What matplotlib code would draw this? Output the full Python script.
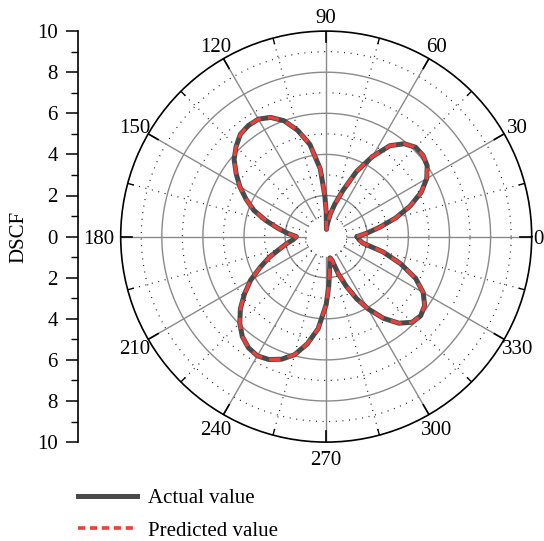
import numpy as np
import matplotlib
matplotlib.use("Agg")
import matplotlib.pyplot as plt
from matplotlib.lines import Line2D
from matplotlib import transforms

plt.rcParams['font.family'] = ['Liberation Serif', 'DejaVu Serif']

# Direction angles (degrees) and DSCF magnitudes
angles_deg = [0, 5, 10, 15, 20, 25, 30, 35, 40, 45, 50, 55, 60, 65, 70, 75, 80, 85, 88,
              90, 92, 95, 100, 105, 110, 115, 120, 125, 130, 135, 140, 145, 150, 155,
              160, 165, 170, 175, 180, 185, 190, 195, 200, 205, 210, 215, 220, 225,
              230, 235, 240, 245, 250, 255, 260, 265, 270, 273, 276, 280, 284, 288,
              292, 296, 300, 305, 310, 315, 320, 325, 330, 335, 340, 345, 350, 355, 360]
actual = [1.5, 2.0, 2.65, 3.5, 4.35, 5.1, 5.65, 6.0, 6.15, 6.15, 5.9, 5.4, 4.5, 3.5,
          2.4, 1.65, 1.1, 0.6, 0.35,
          1.2, 2.0, 3.3, 4.55, 5.35, 6.0, 6.4, 6.6, 6.6, 6.5, 6.2, 5.85, 5.35, 4.85,
          4.3, 3.75, 3.05, 2.4, 1.9, 1.45, 1.6, 1.95, 2.35, 2.95, 3.55, 4.25, 4.85,
          5.45, 5.95, 6.35, 6.6, 6.7, 6.6, 6.35, 5.95, 5.3, 4.5, 3.3, 2.4, 1.6, 1.05,
          1.2, 1.9, 2.6, 3.35, 4.05, 4.85, 5.5, 5.9, 6.0, 5.85, 5.45, 4.8, 3.85, 2.85,
          1.8, 1.6, 1.5]
predicted = list(actual)

angle_labels = [0, 30, 60, 90, 120, 150, 180, 210, 240, 270, 300, 330]
r_ticks = [10, 8, 6, 4, 2, 0, 2, 4, 6, 8, 10]

FS = 15
W, H = 544, 541
fig = plt.figure(figsize=(W / 100, H / 100), dpi=100)

cx, cy, R = 326.2, 236.6, 205.5
ax = fig.add_axes([(cx - R) / W, (H - cy - R) / H, 2 * R / W, 2 * R / H],
                  projection='polar')
ax.set_ylim(0, 10)
ax.grid(False)
ax.set_xticks([])
ax.set_yticks([])
ax.spines['polar'].set_linewidth(1.2)

full = np.linspace(0, 2 * np.pi, 721)
grid_grey = '#8a8a8a'
for r in [2, 4, 6, 8]:
    ax.plot(full, np.full_like(full, r), color=grid_grey, lw=1.0, zorder=1)
for r in [1, 3, 5, 7, 9]:
    ax.plot(full, np.full_like(full, r), color='#222222', lw=0.9,
            linestyle=(0, (0.8, 4.5)), zorder=1)
for a in range(0, 360, 30):
    t = np.deg2rad(a)
    ax.plot([t, t], [1, 10], color=grid_grey, lw=1.0, zorder=1)
    ax.plot([t, t], [9.45, 10], color='black', lw=1.2, zorder=2)
for a in range(15, 360, 30):
    t = np.deg2rad(a)
    ax.plot([t, t], [1, 10], color='#222222', lw=0.9,
            linestyle=(0, (0.8, 4.5)), zorder=1)
    ax.plot([t, t], [9.72, 10], color='black', lw=1.0, zorder=2)

theta = np.deg2rad(angles_deg)
ax.plot(theta, actual, color='#4a4a4a', lw=3.6, solid_joinstyle='round',
        solid_capstyle='round', zorder=3)
ax.plot(theta, predicted, color='#e8403c', lw=2.4, dashes=(3.4, 2.2), zorder=4)

# angular labels, nudged down so the digits sit visually centred
shift = transforms.offset_copy(ax.transData, fig=fig, x=0, y=-2.5, units='dots')
for a in angle_labels:
    t = np.deg2rad(a)
    if a == 0:
        ax.text(t, 10.08, str(a), ha='left', va='center', fontsize=FS,
                transform=shift, clip_on=False)
    elif a == 180:
        ax.text(t, 10.3, str(a), ha='right', va='center', fontsize=FS,
                transform=shift, clip_on=False)
    else:
        ax.text(t, 10.75, str(a), ha='center', va='center', fontsize=FS,
                transform=shift, clip_on=False)

# radial scale on the left
lax = fig.add_axes([78 / W, (H - cy - R) / H, 0.001, 2 * R / H])
lax.set_ylim(-10, 10)
for s in ['top', 'right', 'bottom']:
    lax.spines[s].set_visible(False)
lax.spines['left'].set_linewidth(1.2)
lax.set_xticks([])
lax.patch.set_visible(False)
lax.set_yticks(np.arange(-10, 11, 2))
lax.set_yticklabels([str(v) for v in r_ticks[::-1]])
lax.set_yticks(np.arange(-10, 11, 1), minor=True)
lax.tick_params(axis='y', which='major', length=8.5, width=1.1, labelsize=FS, pad=6)
lax.tick_params(axis='y', which='minor', length=5, width=1.0)
fig.text(19 / W, 1 - 237 / H, 'DSCF', rotation=90, ha='center', va='center',
         fontsize=FS)

handles = [Line2D([], [], color='#4a4a4a', lw=3.6),
           Line2D([], [], color='#e8403c', lw=2.6, dashes=(2.0, 1.3))]
fig.legend(handles, ['Actual value', 'Predicted value'], loc='upper left',
           bbox_to_anchor=(78 / W, 1 - 488.5 / H), frameon=False, fontsize=FS,
           handlelength=2.84, handletextpad=0.53, labelspacing=0.62,
           borderpad=0, borderaxespad=0)

fig.savefig('out.png', dpi=100)
